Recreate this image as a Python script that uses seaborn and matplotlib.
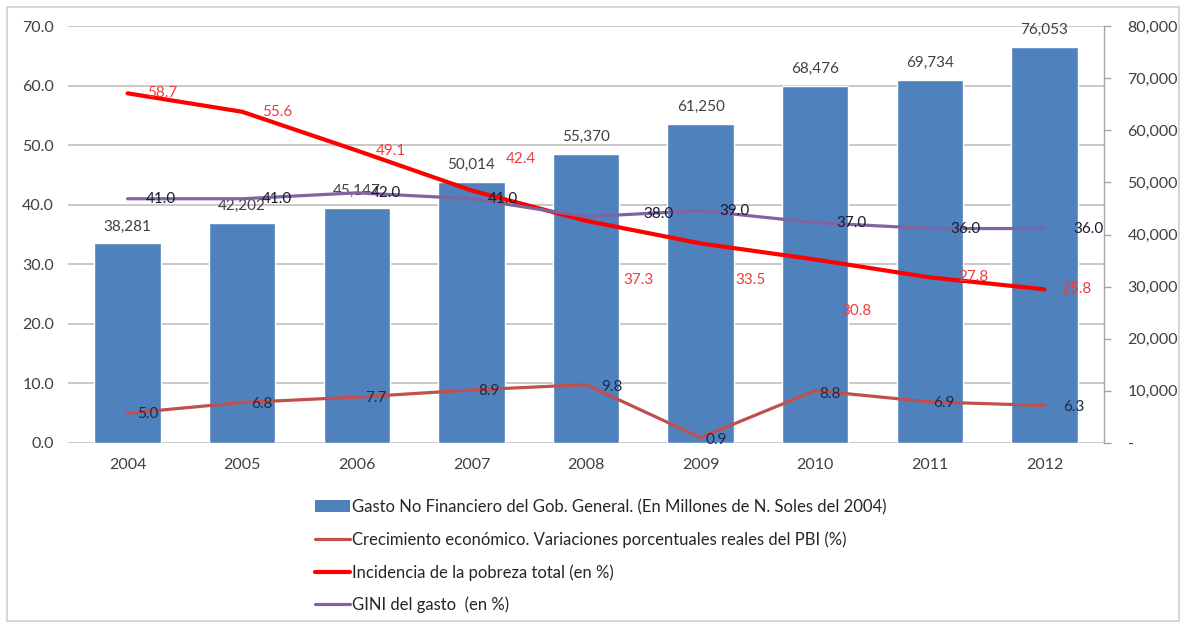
import numpy as np
import pandas as pd
import matplotlib
matplotlib.use('Agg')
import matplotlib.pyplot as plt
from matplotlib.patches import Patch, Rectangle
from matplotlib.lines import Line2D
from matplotlib.ticker import FuncFormatter
import seaborn as sns

# datos
years = ['2004', '2005', '2006', '2007', '2008', '2009', '2010', '2011', '2012']
gasto = [38281, 42202, 45147, 50014, 55370, 61250, 68476, 69734, 76053]
crecimiento = [5.0, 6.8, 7.7, 8.9, 9.8, 0.9, 8.8, 6.9, 6.3]
pobreza = [58.7, 55.6, 49.1, 42.4, 37.3, 33.5, 30.8, 27.8, 25.8]
gini = [41.0, 41.0, 42.0, 41.0, 38.0, 39.0, 37.0, 36.0, 36.0]

legend_labels = [
    'Gasto No Financiero del Gob. General. (En Millones de N. Soles del 2004)',
    'Crecimiento económico. Variaciones porcentuales reales del PBI (%)',
    'Incidencia de la pobreza total (en %)',
    'GINI del gasto  (en %)',
]

# colores
C_BAR = '#4F81BD'
C_CREC = '#C0504D'
C_POB = '#FF0000'
C_GINI = '#8064A2'
C_TXT = '#404040'

# desplazamiento de etiquetas (pixeles)
off_pob = [(20, 0), (20, 0), (19, 0), (34, 31), (37, -59), (35, -37), (26, -51), (28, 0), (17, 0)]
off_gini = [(18, 0), (20, 0), (14, 0), (16, 0), (57, 3), (19, 0), (21, 0), (21, 0), (29, 0)]
off_crec = [(10, -1), (9, -2), (8, -1), (7, -1), (15, -2), (5, -2), (4, -3), (3, -1), (19, -2)]

df = pd.DataFrame({'year': years, 'gasto': gasto, 'crecimiento': crecimiento,
                   'pobreza': pobreza, 'gini': gini})

sns.set_theme(style='white')
plt.rcParams['font.family'] = ['Lato', 'DejaVu Sans']

fig = plt.figure(figsize=(11.86, 6.24), dpi=100)
rect = [68 / 1186, 1 - 443 / 624, (1104 - 68) / 1186, (443 - 26) / 624]

# eje de fondo: escala izquierda y rejilla
ax = fig.add_axes(rect)
ax.set_zorder(0)
# barras: escala derecha
ax_bar = ax.twinx()
ax_bar.set_zorder(1)
ax_bar.patch.set_visible(False)
# lineas: escala izquierda, encima de las barras
ax_line = ax.twinx()
ax_line.set_zorder(2)
ax_line.patch.set_visible(False)

sns.barplot(data=df, x='year', y='gasto', ax=ax_bar, color=C_BAR,
            saturation=1, width=0.58)
for i, v in enumerate(gasto):
    ax_bar.annotate(f'{v:,}', (i, v), xytext=(0, 10), textcoords='offset pixels',
                    ha='center', va='bottom', fontsize=11, color=C_TXT)

sns.lineplot(data=df, x='year', y='crecimiento', ax=ax_line, color=C_CREC,
             linewidth=2.3, sort=False)
sns.lineplot(data=df, x='year', y='pobreza', ax=ax_line, color=C_POB,
             linewidth=3, sort=False)
sns.lineplot(data=df, x='year', y='gini', ax=ax_line, color=C_GINI,
             linewidth=2.3, sort=False)

for i, v in enumerate(pobreza):
    ax_line.annotate(f'{v:.1f}', (i, v), xytext=off_pob[i], textcoords='offset pixels',
                     ha='left', va='center', fontsize=11, color='#F03C3C')
for i, v in enumerate(gini):
    ax_line.annotate(f'{v:.1f}', (i, v), xytext=off_gini[i], textcoords='offset pixels',
                     ha='left', va='center', fontsize=11, color='#1A1A2E')
for i, v in enumerate(crecimiento):
    ax_line.annotate(f'{v:.1f}', (i, v), xytext=off_crec[i], textcoords='offset pixels',
                     ha='left', va='center', fontsize=11, color='#1F2A44')

# escalas
xlim = (-0.52, 8.52)
for a in (ax, ax_bar, ax_line):
    a.set_xlim(*xlim)
    a.set_xlabel('')
    a.set_ylabel('')

ax.set_ylim(0, 70)
ax.set_yticks(np.arange(0, 71, 10))
ax.yaxis.set_major_formatter(FuncFormatter(lambda v, p: f'{v:.1f}'))
ax.grid(axis='y', color='#BFBFBF', linewidth=1.2)
ax.grid(axis='x', visible=False)
ax.tick_params(axis='y', length=0, labelsize=11.5, labelcolor=C_TXT, pad=10)
ax.set_xticks(range(len(years)))
ax.set_xticklabels(years)
ax.tick_params(axis='x', length=0, labelsize=11.5, labelcolor=C_TXT, pad=11)
for s in ax.spines.values():
    s.set_visible(False)

ax_bar.set_ylim(0, 80000)
ax_bar.set_yticks(np.arange(0, 80001, 10000))
ax_bar.yaxis.set_major_formatter(FuncFormatter(lambda v, p: '-' if v == 0 else f'{v:,.0f}'))
ax_bar.yaxis.tick_right()
ax_bar.tick_params(axis='y', direction='out', length=5, width=1, color='#A6A6A6',
                   labelsize=11.5, labelcolor=C_TXT, pad=12)
for name, s in ax_bar.spines.items():
    s.set_visible(name == 'right')
ax_bar.spines['right'].set_color('#A6A6A6')
ax_bar.spines['right'].set_linewidth(1)

ax_line.set_ylim(0, 70)
ax_line.set_yticks([])
ax_line.get_xaxis().set_visible(False)
for s in ax_line.spines.values():
    s.set_visible(False)
ax_bar.get_xaxis().set_visible(False)

# leyenda
handles = [
    Patch(facecolor=C_BAR, edgecolor='none'),
    Line2D([0], [0], color=C_CREC, linewidth=2.3),
    Line2D([0], [0], color=C_POB, linewidth=3),
    Line2D([0], [0], color=C_GINI, linewidth=2.3),
]
fig.legend(handles, legend_labels, loc='upper left',
           bbox_to_anchor=(300 / 1186, 1 - 484 / 624), frameon=False,
           fontsize=12, labelspacing=0.97, handlelength=2.1, handletextpad=0.15,
           labelcolor='#262626')

# marco
fig.patches.append(Rectangle((7 / 1186, 3 / 624), 1172 / 1186, 614 / 624,
                             transform=fig.transFigure, fill=False,
                             edgecolor='#D0D0D0', linewidth=1.2))

plt.savefig('out.png', dpi=100)
plt.close()
